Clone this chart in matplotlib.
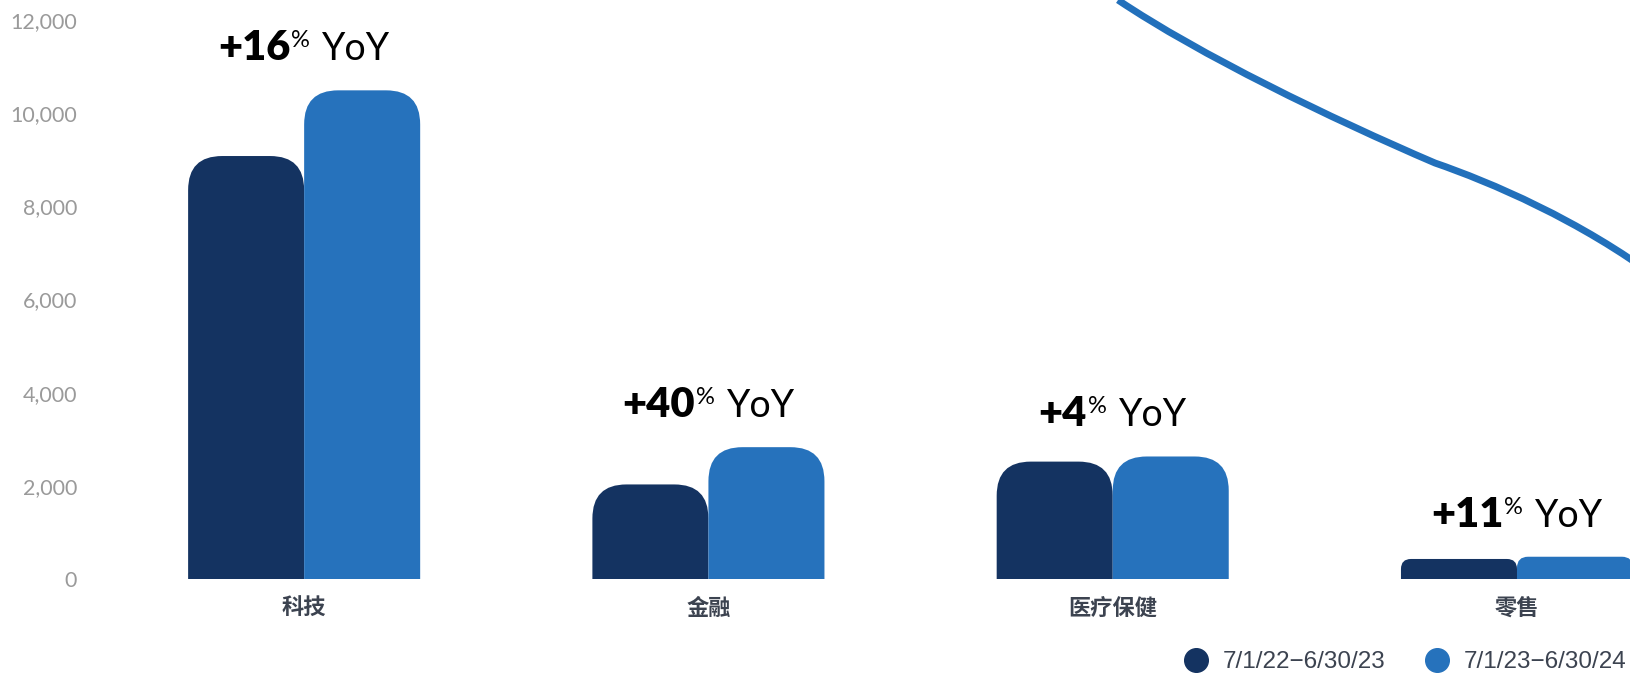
import matplotlib
matplotlib.use("Agg")
import matplotlib.pyplot as plt
from matplotlib.patches import FancyBboxPatch, PathPatch
from matplotlib.path import Path
from matplotlib.lines import Line2D
from matplotlib.transforms import ScaledTranslation
from matplotlib.ticker import FuncFormatter

plt.rcParams['font.family'] = ['Lato', 'Noto Sans CJK SC', 'DejaVu Sans']

# Data
categories = ["科技", "金融", "医疗保健", "零售"]
prev_year = [9080, 2030, 2520, 430]      # 7/1/22-6/30/23
curr_year = [10490, 2830, 2630, 478]     # 7/1/23-6/30/24
yoy = [16, 40, 4, 11]
series_labels = ["7/1/22\u22126/30/23", "7/1/23\u22126/30/24"]
yticks = [0, 2000, 4000, 6000, 8000, 10000, 12000]

dark = "#143361"
light = "#2672bc"
curve_color = "#2270bb"

W, H, DPI = 1631, 674, 100
fig = plt.figure(figsize=(W / DPI, H / DPI), dpi=DPI)
ax = fig.add_axes([102 / W, 95 / H, (W - 102) / W, 559 / H])

bar_w = 0.287
ax.set_xlim(-0.5, 3.282)
ax.set_ylim(0, 12000)

# px -> data conversions for rounded corners
px_x = (3.282 + 0.5) / (W - 102)
px_y = 12000 / 559
aspect = px_y / px_x

for i in range(len(categories)):
    for val, color, x0 in [(prev_year[i], dark, i - bar_w), (curr_year[i], light, i)]:
        h_px = val / px_y
        r_px = min(34, h_px * 0.5)
        bottom = -2000
        patch = FancyBboxPatch((x0, bottom), bar_w, val - bottom,
                               boxstyle=f"round,pad=0,rounding_size={r_px * px_x}",
                               mutation_aspect=aspect, facecolor=color,
                               edgecolor="none", linewidth=0)
        ax.add_patch(patch)

# YoY labels: heavy number, small superscript %, regular "YoY"
fig.canvas.draw()
renderer = fig.canvas.get_renderer()
for i, p in enumerate(yoy):
    top = max(prev_year[i], curr_year[i])
    # (text, font kwargs, raise px, gap before px)
    parts = [(f"+{p}", dict(fontsize=30, fontweight="heavy"), 0, 0),
             ("%", dict(fontsize=17), 13, 1),
             ("YoY", dict(fontsize=27), 0, 12)]
    texts = []
    for s, kw, dy, gap in parts:
        t = ax.text(i, top, s, ha="left", va="baseline", color="black", **kw)
        texts.append(t)
    widths = [t.get_window_extent(renderer).width for t in texts]
    total = sum(widths) + sum(pt[3] for pt in parts)
    xoff = -total / 2
    for t, w, (s, kw, dy, gap) in zip(texts, widths, parts):
        xoff += gap
        t.set_transform(ax.transData + ScaledTranslation(xoff / DPI, (30 + dy) / DPI,
                                                         fig.dpi_scale_trans))
        xoff += w

# axes styling
for sp in ax.spines.values():
    sp.set_visible(False)
ax.set_yticks(yticks)
ax.yaxis.set_major_formatter(FuncFormatter(lambda v, _: f"{int(v):,}"))
ax.tick_params(axis="y", length=0, pad=18, labelsize=15.5, labelcolor="#9a9a9a")
ax.set_xticks(range(len(categories)))
ax.set_xticklabels(categories, fontsize=16, fontweight="bold", color="#3c4350",
                   family=["Noto Sans CJK SC", "DejaVu Sans"])
ax.tick_params(axis="x", length=0, pad=13)

# legend
handles = [Line2D([], [], marker="o", linestyle="none", markersize=17,
                  markerfacecolor=c, markeredgecolor=c) for c in (dark, light)]
fig.legend(handles, series_labels, loc="lower right", bbox_to_anchor=(1.0, -0.006),
           ncol=2, frameon=False, handlelength=1.0, handletextpad=0.6,
           columnspacing=1.6, prop={"family": "Liberation Sans", "size": 17.5},
           labelcolor="#3c4350", borderpad=0.2, borderaxespad=0)

# decorative curve at top right (figure pixel coords, y from top)
curve_px = [(1118, 0), (1200, 55), (1330, 118), (1435, 163),
            (1490, 182), (1580, 220), (1660, 280)]
verts = [(x / W, 1 - y / H) for x, y in curve_px]
codes = [Path.MOVETO] + [Path.CURVE4] * 6
fig.add_artist(PathPatch(Path(verts, codes), facecolor="none", edgecolor=curve_color,
                         linewidth=5, transform=fig.transFigure))

fig.savefig("out.png", dpi=DPI)
